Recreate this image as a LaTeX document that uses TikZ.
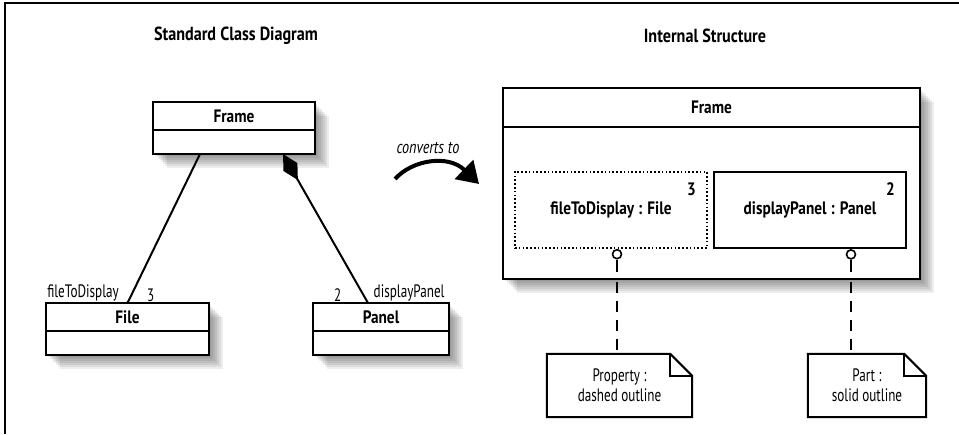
\documentclass[tikz,border=0pt]{standalone}
\usepackage{fontspec}
\setmainfont[UprightFeatures={FakeStretch=0.73},
             BoldFeatures={FakeStretch=0.85},
             ItalicFeatures={FakeStretch=0.79}]{PT Sans}
\usetikzlibrary{arrows.meta,positioning,backgrounds}

%% folded-corner outline round a note node
\newcommand\notefold[1]{%
  \draw[line width=2pt, fill=white, line join=miter]
    (#1.north west) -- ([xshift=-22pt]#1.north east)
    -- ([yshift=-22pt]#1.north east) -- (#1.south east)
    -- (#1.south west) -- cycle;
  \draw[line width=2pt]
    ([xshift=-22pt]#1.north east) -- ([xshift=-22pt,yshift=-22pt]#1.north east)
    -- ([yshift=-22pt]#1.north east);}

%% soft shadow under a box (head node, body node)
\newcommand\clsshadow[2]{%
  \begin{pgfonlayer}{background}
    \foreach \s in {2,4,...,14}
      \fill[black, opacity=0.07]
        ([shift={(\s pt,-\s pt)}]#1.north west) rectangle
        ([shift={(\s pt,-\s pt)}]#2.south east);
  \end{pgfonlayer}}

\begin{document}
\begin{tikzpicture}[
  x=1pt, y=-1pt,
  node distance=0pt,
  font=\fontsize{18}{20}\selectfont,
  ttl/.style={font=\fontsize{19}{22}\selectfont\bfseries},
  clshead/.style={rectangle, draw=black, fill=white, line width=2.2pt,
                  outer sep=0pt, inner sep=0pt, minimum height=28pt,
                  font=\fontsize{18}{20}\selectfont\bfseries},
  clsbody/.style={rectangle, draw=black, fill=white, line width=2.2pt,
                  outer sep=0pt, inner sep=0pt, minimum height=24pt},
  partbox/.style={rectangle, draw=black, fill=white, line width=2.2pt,
                  minimum width=192pt, minimum height=76pt, inner sep=0pt,
                  font=\fontsize{18}{20}\selectfont\bfseries},
  propbox/.style={partbox, line width=1.8pt, dash pattern=on 1.6pt off 2.2pt},
  mult/.style={inner sep=0pt, anchor=north east,
               font=\fontsize{18}{20}\selectfont\bfseries},
  role/.style={inner sep=1.5pt},
  notetext/.style={rectangle, minimum height=63pt, align=center,
                   inner sep=0pt, text depth=0pt},
  lolli/.style={circle, draw=black, fill=white, line width=1.6pt,
                minimum size=9pt, inner sep=0pt, anchor=north},
  assoc/.style={line width=2pt},
  anchorline/.style={line width=2pt, dash pattern=on 11pt off 8pt}
]
\useasboundingbox (0,0) rectangle (959,434);
%% ── page edge ───────────────────────────────────────────────────────────
\draw[line width=2pt] (5,434) -- (5,3) -- (959,3);
%% ── Titles ──────────────────────────────────────────────────────────────
\node[ttl] (ttlL) at (236,36) {Standard Class Diagram};
\node[ttl] (ttlR) at (705,36) {Internal Structure};
%% ── Class diagram (left) ────────────────────────────────────────────────
\node[clshead, minimum width=162pt] (frame) at (234,116) {Frame};
\node[clsbody, minimum width=162pt, below=of frame] (framebody) {};
\node[clshead, minimum width=163pt] (file) at (127.5,317) {File};
\node[clsbody, minimum width=163pt, below=of file] (filebody) {};
\node[clshead, minimum width=136pt] (panel) at (381,317) {Panel};
\node[clsbody, minimum width=136pt, below=of panel] (panelbody) {};
\clsshadow{frame}{framebody}
\clsshadow{file}{filebody}
\clsshadow{panel}{panelbody}
%% ── Associations ────────────────────────────────────────────────────────
\draw[assoc] ([xshift=-34pt]framebody.south) -- (file.north);
\draw[assoc, {Diamond[length=30pt,width=16pt]}-]
  ([xshift=49pt]framebody.south) -- ([xshift=-13pt]panel.north);
\node[role, anchor=south east] at ([xshift=-7pt]file.north) {fileToDisplay};
\node[role, anchor=south west] at ([xshift=18pt]file.north) {3};
\node[role, anchor=south east] at ([xshift=-38pt]panel.north) {2};
\node[role, anchor=south west] at ([xshift=-9pt]panel.north) {displayPanel};
%% ── converts to ─────────────────────────────────────────────────────────
\node[font=\fontsize{18}{20}\selectfont\itshape] (conv) at (428,148) {converts to};
\coordinate (cvA) at (395,179);
\coordinate (cvB) at (479,184);
\draw[line width=4pt, -{Triangle[length=21pt,width=26pt]}]
  (cvA) .. controls (412,160) and (448,154) .. (cvB);
%% ── Internal structure (right) ──────────────────────────────────────────
\node[clshead, minimum width=417pt, minimum height=39pt] (bigframe) at (711.5,107.5) {Frame};
\node[clsbody, minimum width=417pt, minimum height=152pt, below=of bigframe] (bigbody) {};
\clsshadow{bigframe}{bigbody}
\node[propbox] (prop) at (611,210) {fileToDisplay : File};
\node[partbox] (part) at (810,210) {displayPanel : Panel};
\node[mult] at ([xshift=-12pt,yshift=-12pt]prop.north east) {3};
\node[mult] at ([xshift=-12pt,yshift=-12pt]part.north east) {2};
%% ── Notes ───────────────────────────────────────────────────────────────
\node[notetext, minimum width=145pt] (noteP) at (619.5,385.5) {Property :\\dashed outline};
\node[notetext, minimum width=118pt] (noteS) at (867,385.5) {Part :\\solid outline};
\begin{pgfonlayer}{background}
  \notefold{noteP}
  \notefold{noteS}
\end{pgfonlayer}
%% ── Lollipops and note anchors ──────────────────────────────────────────
\node[lolli] (lpP) at ([xshift=6pt]prop.south) {};
\node[lolli] (lpS) at ([xshift=41pt]part.south) {};
\draw[line width=2pt] (lpP.south) -- ++(0,12);
\draw[line width=2pt] (lpS.south) -- ++(0,12);
\draw[anchorline] ([yshift=-22pt]lpP.south) -- (lpP.south |- noteP.north);
\draw[anchorline] ([yshift=-22pt]lpS.south) -- (lpS.south |- noteS.north);
\end{tikzpicture}
\end{document}
